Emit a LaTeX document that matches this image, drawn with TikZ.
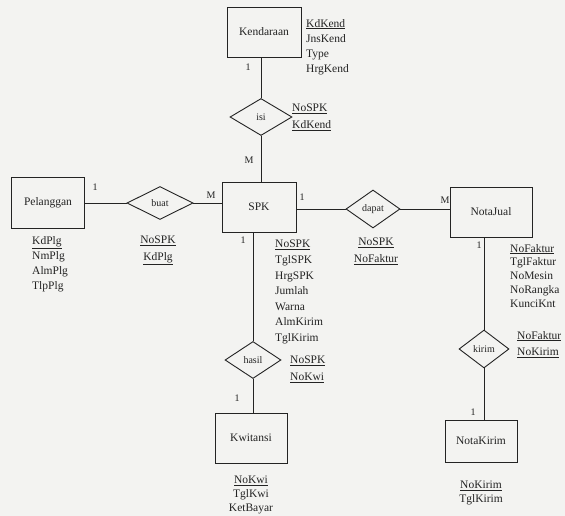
\documentclass[tikz,border=0pt]{standalone}
\usepackage{fontspec}
\setmainfont{Liberation Serif}
\usetikzlibrary{shapes.geometric}
\definecolor{ink}{RGB}{35,35,35}
\definecolor{paper}{RGB}{243,243,241}
\newcommand{\atf}{\fontsize{11.5}{15}\selectfont}
\newcommand{\atfs}{\fontsize{11.5}{13.8}\selectfont}
\newcommand{\atfw}{\fontsize{11.5}{16.5}\selectfont}
\newcommand{\ul}[1]{\underline{#1}}
\tikzset{
  x=1pt, y=-1pt,
  every node/.style={text=ink},
  ent/.style={draw=ink, line width=0.9pt, rectangle, inner sep=0pt, font=\fontsize{11.5}{14}\selectfont},
  rel/.style={draw=ink, line width=0.9pt, diamond, inner sep=0pt, font=\fontsize{10}{12}\selectfont},
  attr/.style={inner sep=0pt, anchor=north west, align=left, font=\atf},
  attrc/.style={inner sep=0pt, anchor=north, align=center, font=\atf},
  card/.style={inner sep=0pt, font=\fontsize{10}{12}\selectfont},
  link/.style={draw=ink, line width=0.9pt}
}
\begin{document}
\begin{tikzpicture}
\fill[paper] (0,0) rectangle (565,516);
\useasboundingbox (0,0) rectangle (565,516);

% entities
\node[ent, minimum width=74pt, minimum height=50pt] (Kendaraan) at (264,32) {Kendaraan};
\node[ent, minimum width=74pt, minimum height=50pt] (SPK) at (259,207) {SPK};
\node[ent, minimum width=73pt, minimum height=51pt] (Pelanggan) at (48,203) {Pelanggan};
\node[ent, minimum width=82pt, minimum height=50pt] (NotaJual) at (491,212) {NotaJual};
\node[ent, minimum width=72pt, minimum height=50pt] (Kwitansi) at (251,438) {Kwitansi};
\node[ent, minimum width=72pt, minimum height=42pt] (NotaKirim) at (481,441) {NotaKirim};

% relationships
\node[rel, minimum width=62pt, minimum height=37pt] (isi) at (261,117) {isi};
\node[rel, minimum width=66pt, minimum height=33pt] (buat) at (160,203) {buat};
\node[rel, minimum width=54pt, minimum height=38pt] (dapat) at (373,209) {dapat};
\node[rel, minimum width=50pt, minimum height=38pt] (kirim) at (484,349) {kirim};
\node[rel, minimum width=56pt, minimum height=37pt] (hasil) at (253,360) {hasil};

% connectors
\draw[link] (isi.north) -- (isi.north |- Kendaraan.south);
\draw[link] (isi.south) -- (isi.south |- SPK.north);
\draw[link] (buat.west) -- (buat.west -| Pelanggan.east);
\draw[link] (buat.east) -- (buat.east -| SPK.west);
\draw[link] (dapat.west) -- (dapat.west -| SPK.east);
\draw[link] (dapat.east) -- (dapat.east -| NotaJual.west);
\draw[link] (kirim.north) -- (kirim.north |- NotaJual.south);
\draw[link] (kirim.south) -- (kirim.south |- NotaKirim.north);
\draw[link] (hasil.north) -- (hasil.north |- SPK.south);
\draw[link] (hasil.south) -- (hasil.south |- Kwitansi.north);

% cardinalities
\node[card] (c1) at (248,67) {1};
\node[card] (c2) at (249,160) {M};
\node[card] (c3) at (95,187) {1};
\node[card] (c4) at (211,195) {M};
\node[card] (c5) at (302,197) {1};
\node[card] (c6) at (243,240) {1};
\node[card] (c7) at (445,200) {M};
\node[card] (c8) at (479,245) {1};
\node[card] (c9) at (237,398) {1};
\node[card] (c10) at (473,412) {1};

% attributes
\node[attr] (aKend) at (306,19) {\ul{KdKend}\\JnsKend\\Type\\HrgKend};
\node[attr, font=\atfw] (aIsi) at (292,104) {\ul{NoSPK}\\\ul{KdKend}};
\node[attr] (aPlg) at (32,236) {\ul{KdPlg}\\NmPlg\\AlmPlg\\TlpPlg};
\node[attrc, font=\atfw] (aBuat) at (158,236) {\ul{NoSPK}\\\ul{KdPlg}};
\node[attr, font=\fontsize{11.5}{15.6}\selectfont] (aSPK) at (275,240) {\ul{NoSPK}\\TglSPK\\HrgSPK\\Jumlah\\Warna\\AlmKirim\\TglKirim};
\node[attrc, font=\atfw] (aDapat) at (376,238) {\ul{NoSPK}\\\ul{NoFaktur}};
\node[attr, font=\atfs] (aNJ) at (510,244) {\ul{NoFaktur}\\TglFaktur\\NoMesin\\NoRangka\\KunciKnt};
\node[attr, font=\atfw] (aKirim) at (517,331) {\ul{NoFaktur}\\\ul{NoKirim}};
\node[attr, font=\atfw] (aHasil) at (290,356) {\ul{NoSPK}\\\ul{NoKwi}};
\node[attrc, font=\atfs] (aKwi) at (251,476) {\ul{NoKwi}\\TglKwi\\KetBayar};
\node[attrc, font=\atfs] (aNK) at (481,481) {\ul{NoKirim}\\TglKirim};
\end{tikzpicture}
\end{document}
